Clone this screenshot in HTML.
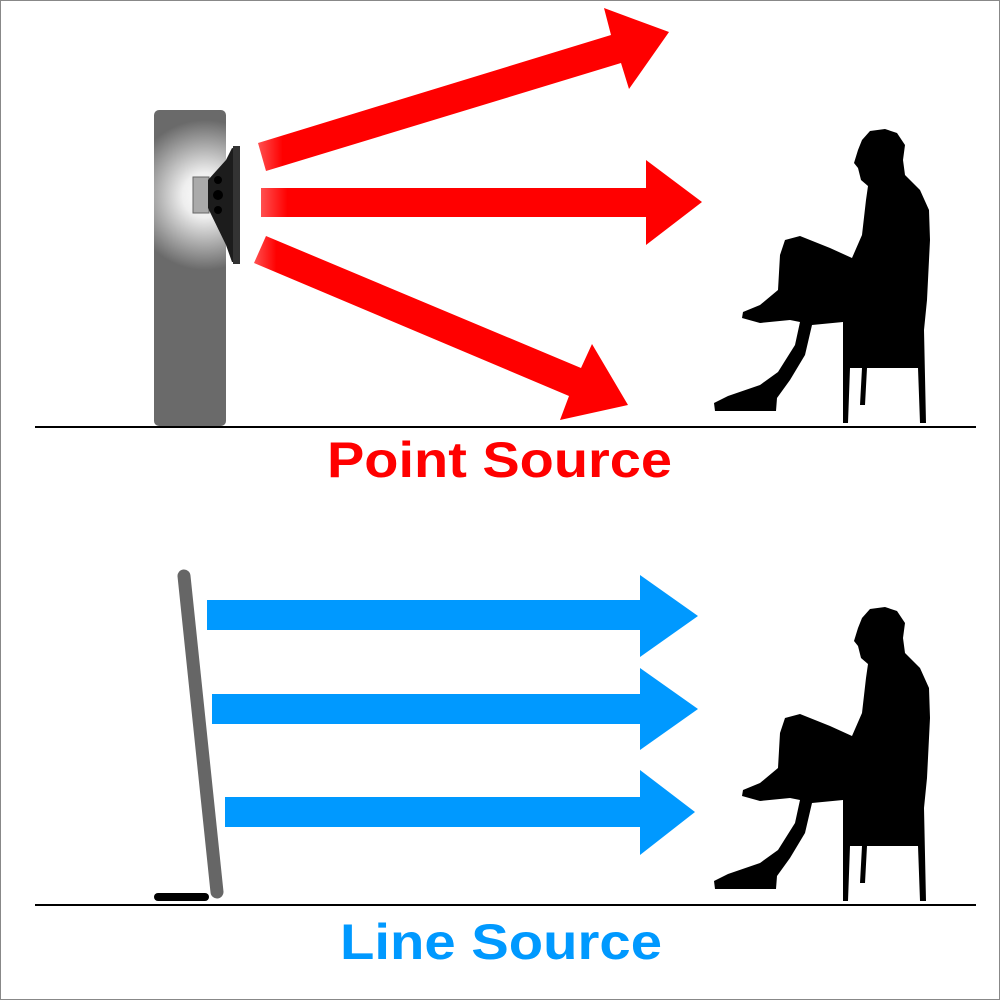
<!DOCTYPE html>
<html><head><meta charset="utf-8"><style>
html,body{margin:0;padding:0;background:#fff}
svg{display:block}
</style></head><body>
<svg width="1000" height="1000" viewBox="0 0 1000 1000" xmlns="http://www.w3.org/2000/svg">
<defs>
<radialGradient id="glow" cx="205" cy="195" r="75" gradientUnits="userSpaceOnUse">
<stop offset="0" stop-color="#fff"/><stop offset="0.3" stop-color="#eee"/><stop offset="1" stop-color="#6a6a6a"/>
</radialGradient>
<linearGradient id="fade" x1="0" x2="1"><stop offset="0" stop-color="#ff5050"/><stop offset="0.06" stop-color="#ff0000"/></linearGradient>
<g id="person">
<polygon fill="#000" points="858,150 854,163 858,168 861,180 868,186 866,200 862,235 852,258 830,248 800,236 785,240 780,255 778,290 760,305 743,312 742,318 760,323 790,320 800,322 795,345 778,372 760,385 728,396 714,403 715,411 776,411 777,398 790,380 805,355 812,325 843,322 843,423 848,423 850,368 862,368 860,405 865,405 867,368 918,368 920,423 926,423 924,330 927,300 930,240 929,210 920,190 905,175 903,160 905,145 897,133 885,129 870,131 862,140"/>
</g>
</defs>
<rect x="0.5" y="0.5" width="999" height="999" fill="#fff" stroke="#888"/>
<rect x="154" y="110" width="72" height="316" rx="5" fill="url(#glow)"/>
<rect x="193" y="177" width="16" height="36" fill="#aaa" stroke="#666" stroke-width="1"/>
<polygon points="208,180 226,160 232,148 240,150 240,262 232,262 226,245 208,208" fill="#1c1c1c"/>
<rect x="233" y="146" width="7" height="118" fill="#333"/>
<circle cx="218" cy="180" r="4" fill="#000"/><circle cx="218" cy="195" r="5" fill="#000"/><circle cx="218" cy="210" r="4" fill="#000"/>
<polygon fill="url(#fade)" points="258,143 611,35 604,8 669,32 629,89 621,63 266,171"/>
<polygon fill="url(#fade)" points="261,188 646,188 646,160 702,202 646,245 646,217 261,217"/>
<polygon fill="url(#fade)" points="266,236 581,368 592,344 628,405 560,420 569,396 254,263"/>
<line x1="35" y1="427" x2="976" y2="427" stroke="#000" stroke-width="2"/>
<use href="#person"/>
<text x="327" y="477" textLength="345" lengthAdjust="spacingAndGlyphs" font-family="Liberation Sans, sans-serif" font-weight="bold" font-size="50" fill="#ff0000">Point Source</text>
<line x1="184" y1="576" x2="217" y2="892" stroke="#666" stroke-width="13" stroke-linecap="round"/>
<line x1="158" y1="897" x2="205" y2="897" stroke="#000" stroke-width="8" stroke-linecap="round"/>
<g fill="#0099ff">
<polygon points="207,600 640,600 640,575 698,616 640,657 640,630 207,630"/>
<polygon points="212,694 640,694 640,668 698,709 640,750 640,724 212,724"/>
<polygon points="225,797 640,797 640,770 695,812 640,855 640,827 225,827"/>
</g>
<line x1="35" y1="905" x2="976" y2="905" stroke="#000" stroke-width="2"/>
<use href="#person" transform="translate(0,478)"/>
<text x="340" y="959" textLength="322" lengthAdjust="spacingAndGlyphs" font-family="Liberation Sans, sans-serif" font-weight="bold" font-size="50" fill="#0099ff">Line Source</text>
</svg>
</body></html>
